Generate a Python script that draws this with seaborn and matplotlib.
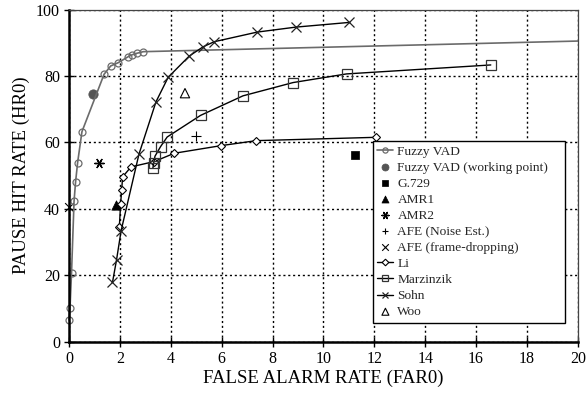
import matplotlib
matplotlib.use("Agg")
from matplotlib import pyplot as plt
import seaborn as sns
import numpy as np

# Fuzzy VAD ROC curve (last point is only the line end, no marker)
fuzzy_far = [0.0, 0.04, 0.1, 0.2, 0.26, 0.34, 0.51, 1.38, 1.64, 1.94, 2.33, 2.46, 2.66, 2.92, 20.0]
fuzzy_hr = [6.5, 10.0, 20.6, 42.3, 48.1, 53.9, 63.2, 80.5, 83.0, 84.0, 85.8, 86.3, 86.8, 87.3, 90.5]
working_far = [0.94]
working_hr = [74.5]

g729_far = [11.24]
g729_hr = [56.2]
amr1_far = [1.86]
amr1_hr = [41.0]
amr2_far = [1.18]
amr2_hr = [53.7]
afe_ne_far = [4.98]
afe_ne_hr = [62.0]
afe_fd_far = [0.0]
afe_fd_hr = [40.5]
woo_far = [4.56]
woo_hr = [74.8]

li_far = [1.98, 2.03, 2.07, 2.11, 2.44, 3.35, 4.14, 5.98, 7.36, 12.05]
li_hr = [34.6, 41.4, 45.6, 49.6, 52.6, 54.2, 56.7, 59.0, 60.5, 61.5]

marz_far = [3.30, 3.33, 3.38, 3.60, 3.86, 5.17, 6.84, 8.81, 10.91, 16.58]
marz_hr = [52.3, 53.7, 55.8, 58.7, 61.6, 68.1, 74.0, 78.0, 80.6, 83.3]

sohn_far = [1.71, 1.87, 2.05, 2.75, 3.42, 3.90, 4.73, 5.28, 5.71, 7.40, 8.92, 11.0]
sohn_hr = [17.8, 24.6, 33.4, 56.4, 72.2, 79.6, 86.0, 88.8, 90.3, 93.2, 94.7, 96.1]

sns.set_theme(style="white")
plt.rcParams['font.family'] = ['Liberation Serif', 'DejaVu Serif']

fig = plt.figure(figsize=(5.86, 4.03), dpi=100)
ax = fig.add_axes([0.1177, 0.1526, 0.8683, 0.8238])

grey = "#6b6b6b"
ms = 5

sns.lineplot(x=fuzzy_far, y=fuzzy_hr, sort=False, estimator=None, ax=ax, color=grey,
             linewidth=1.2, marker='o', markersize=ms, markerfacecolor='none',
             markeredgecolor=grey, markeredgewidth=0.9,
             markevery=list(range(len(fuzzy_far) - 1)), label="Fuzzy VAD", clip_on=False)
sns.scatterplot(x=working_far, y=working_hr, ax=ax, color="#555555", marker='o', s=45,
                edgecolor="#555555", label="Fuzzy VAD (working point)")
sns.scatterplot(x=g729_far, y=g729_hr, ax=ax, color="black", marker='s', s=40,
                edgecolor="black", label="G.729")
sns.scatterplot(x=amr1_far, y=amr1_hr, ax=ax, color="black", marker='^', s=45,
                edgecolor="black", label="AMR1")
sns.scatterplot(x=amr2_far, y=amr2_hr, ax=ax, color="black", marker=(6, 2, 90), s=45,
                linewidth=1.0, label="AMR2")
sns.scatterplot(x=afe_ne_far, y=afe_ne_hr, ax=ax, color="black", marker='+', s=45,
                linewidth=0.8, label="AFE (Noise Est.)")
sns.scatterplot(x=afe_fd_far, y=afe_fd_hr, ax=ax, color="black", marker='x', s=40,
                linewidth=0.8, label="AFE (frame-dropping)", clip_on=False)
sns.lineplot(x=li_far, y=li_hr, sort=False, estimator=None, ax=ax, color="black",
             linewidth=1.0, marker='D', markersize=4.5, markerfacecolor='white',
             markeredgecolor="black", markeredgewidth=0.8, label="Li")
sns.lineplot(x=marz_far, y=marz_hr, sort=False, estimator=None, ax=ax, color="black",
             linewidth=1.0, marker='s', markersize=6.5, markerfacecolor='none',
             markeredgecolor="#333333", markeredgewidth=0.9, label="Marzinzik")
sns.lineplot(x=sohn_far, y=sohn_hr, sort=False, estimator=None, ax=ax, color="black",
             linewidth=1.0, marker='x', markersize=6.5, markeredgewidth=0.9,
             markeredgecolor="#222222", label="Sohn")
sns.scatterplot(x=woo_far, y=woo_hr, ax=ax, facecolor='none', edgecolor="black", marker='^',
                s=45, linewidth=0.8, label="Woo")

ax.set_xlim(0, 20)
ax.set_ylim(0, 100)
ax.set_xticks(np.arange(0, 21, 2))
ax.set_yticks(np.arange(0, 101, 20))
ax.grid(True, linestyle=(0, (1.5, 2)), color="black", linewidth=1.0)
ax.set_axisbelow(True)

for side in ['left', 'bottom']:
    ax.spines[side].set_color("black")
    ax.spines[side].set_linewidth(1.8)
for side in ['top', 'right']:
    ax.spines[side].set_color("#444444")
    ax.spines[side].set_linewidth(0.9)

ax.tick_params(axis='both', direction='inout', length=7, width=1.0, color='black',
               labelsize=11.5, labelcolor='black', pad=3, left=True, bottom=True)
ax.set_xlabel("FALSE ALARM RATE (FAR0)", fontsize=13.5, color='black', labelpad=2)
ax.set_ylabel("PAUSE HIT RATE (HR0)", fontsize=13.5, color='black', labelpad=4)

leg = ax.legend(loc='lower left', bbox_to_anchor=(0.597, 0.056, 0.377, 0.521), mode='expand',
                fontsize=9.6, frameon=True, fancybox=False, framealpha=1, edgecolor='black',
                borderpad=0.35, labelspacing=0.28, handlelength=1.2, handletextpad=0.3,
                borderaxespad=0, markerscale=0.75)
leg.get_frame().set_linewidth(1.0)

fig.savefig("out.png", dpi=100)
